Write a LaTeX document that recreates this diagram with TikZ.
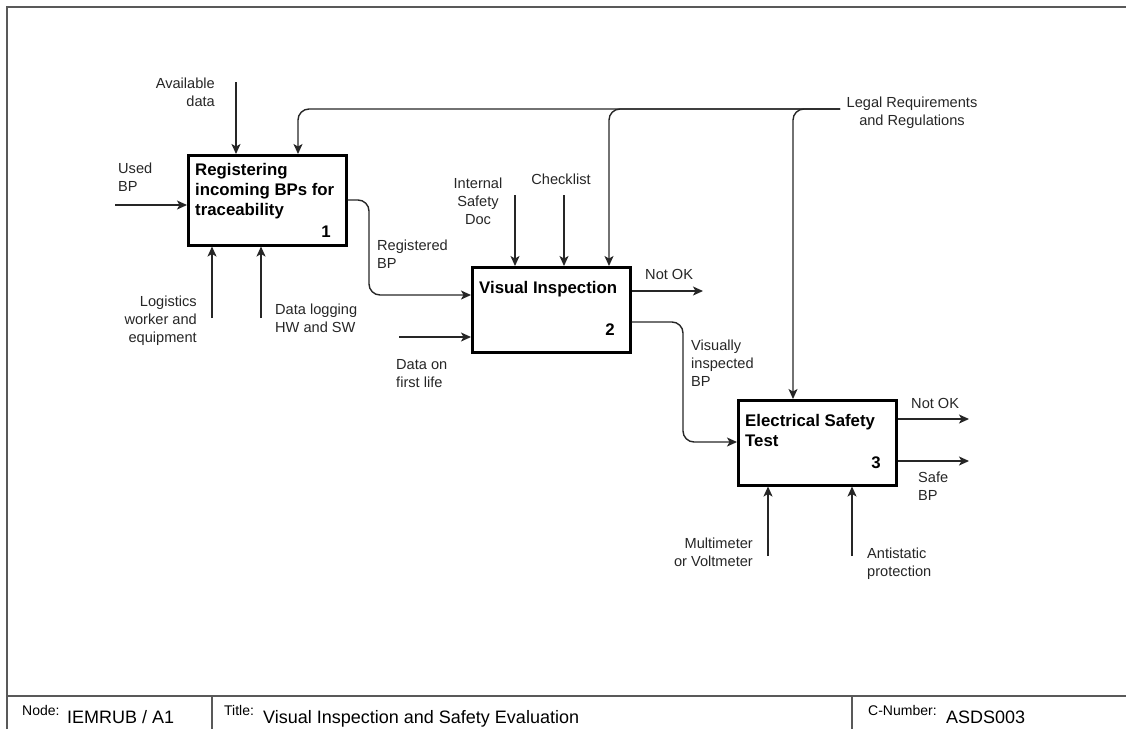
\documentclass[tikz,border=0pt]{standalone}
\usepackage{fontspec}
\setmainfont{Liberation Sans}
\usetikzlibrary{arrows.meta}
\begin{document}
\begin{tikzpicture}[x=1pt,y=-1pt,
  arr/.style={draw=black!85, line width=1.4pt, -{Stealth[length=10pt,width=9pt,inset=2.5pt]}},
  proc/.style={draw=black, line width=2.5pt, fill=white, minimum width=158pt,
    minimum height=90pt, anchor=north west, inner sep=0pt},
  lbl/.style={font=\fontsize{14.6}{18}\selectfont, inner sep=0pt, text=black!85},
  ttl/.style={font=\fontsize{16.8}{20}\selectfont\bfseries, inner sep=0pt, anchor=north west, align=left},
  num/.style={font=\fontsize{16.8}{20}\selectfont\bfseries, inner sep=0pt},
  frame/.style={draw=black!65, line width=1.8pt},
  small/.style={font=\fontsize{14}{16}\selectfont, inner sep=0pt, anchor=base west},
  big/.style={font=\fontsize{18}{20}\selectfont, inner sep=0pt, anchor=base west}
]
\useasboundingbox (0,0) rectangle (1126,729);

% sheet frame and footer
\draw[frame] (7,729) -- (7,7) -- (1126,7);
\draw[frame] (7,696) -- (1126,696);
\draw[frame] (212,696) -- (212,729);
\draw[frame] (852,696) -- (852,729);
\node[small] (fnode) at (22,715) {Node:};
\node[big] (fnodev) at (67,723) {IEMRUB / A1};
\node[small] (ftitle) at (224,715) {Title:};
\node[big] (ftitlev) at (263,723) {Visual Inspection and Safety Evaluation};
\node[small] (fcnum) at (868,715) {C-Number:};
\node[big] (fcnumv) at (946,723) {ASDS003};

% activity boxes
\node[proc, minimum width=158pt, minimum height=90pt] (b1) at (187,154) {};
\node[proc, minimum width=158pt, minimum height=85pt] (b2) at (471,266) {};
\node[proc, minimum width=158pt, minimum height=85pt] (b3) at (737,399) {};
\node[ttl] (t1) at (195,163.5) {Registering\\incoming BPs for\\traceability};
\node[ttl] (t2) at (479,281.5) {Visual Inspection};
\node[ttl] (t3) at (745,414.5) {Electrical Safety\\Test};
\node[num] (n1) at (326,232) {1};
\node[num] (n2) at (610,330) {2};
\node[num] (n3) at (876,463) {3};

% free ends of the boundary arrows
\coordinate (usedS) at (115,205);
\coordinate (availS) at (236,82);
\coordinate (legal) at (840,109);
\coordinate (k1) at (298,0);
\coordinate (k2) at (609,0);
\coordinate (k3) at (793,0);
\coordinate (logS) at (212,318);
\coordinate (dlogS) at (261,318);
\coordinate (isdS) at (515,195);
\coordinate (chkS) at (564,195);
\coordinate (flS) at (399,337);
\coordinate (nok2E) at (703,291);
\coordinate (nok3E) at (969,419);
\coordinate (safeE) at (969,461);
\coordinate (mmS) at (768,556);
\coordinate (asS) at (852,556);
\coordinate (m1) at (369,295);
\coordinate (m2) at (683,442);

% inputs, controls and mechanisms of box 1
\draw[arr] (usedS) -- (usedS -| b1.west);
\draw[arr] (availS) -- (availS |- b1.north);
\draw[arr, rounded corners=11pt] (legal) -| (k1 |- b1.north);
\draw[arr] (logS) -- (logS |- b1.south);
\draw[arr] (dlogS) -- (dlogS |- b1.south);

% box 1 to box 2
\draw[arr, rounded corners=11pt] (b1.east |- 0,200) -| (m1) -- (m1 -| b2.west);

% box 2
\draw[arr] (isdS) -- (isdS |- b2.north);
\draw[arr] (chkS) -- (chkS |- b2.north);
\draw[arr, rounded corners=11pt] (legal) -| (k2 |- b2.north);
\draw[arr] (flS) -- (flS -| b2.west);
\draw[arr] (b2.east |- nok2E) -- (nok2E);

% box 2 to box 3
\draw[arr, rounded corners=11pt] (b2.east |- 0,322) -| (m2) -- (m2 -| b3.west);

% box 3
\draw[arr, rounded corners=11pt] (legal) -| (k3 |- b3.north);
\draw[arr] (b3.east |- nok3E) -- (nok3E);
\draw[arr] (b3.east |- safeE) -- (safeE);
\draw[arr] (mmS) -- (mmS |- b3.south);
\draw[arr] (asS) -- (asS |- b3.south);

% labels
\node[lbl, anchor=north west, align=left] (lused) at (118,162.5) {Used\\BP};
\node[lbl, anchor=north east, align=right] (lavail) at (215,77.5) {Available\\data};
\node[lbl, anchor=north, align=center] (llegal) at (912,96.5) {Legal Requirements\\and Regulations};
\node[lbl, anchor=north east, align=right] (llog) at (197,295.5) {Logistics\\worker and\\equipment};
\node[lbl, anchor=north west, align=left] (ldlog) at (275,303.5) {Data logging\\HW and SW};
\node[lbl, anchor=north west, align=left] (lreg) at (377,239.5) {Registered\\BP};
\node[lbl, anchor=north, align=center] (lisd) at (478,177.5) {Internal\\Safety\\Doc};
\node[lbl, anchor=north] (lchk) at (561,173.5) {Checklist};
\node[lbl, anchor=north west, align=left] (lfl) at (396,359.5) {Data on\\first life};
\node[lbl, anchor=north west] (lnok2) at (645,269.5) {Not OK};
\node[lbl, anchor=north west, align=left] (lvis) at (691,339.5) {Visually\\inspected\\BP};
\node[lbl, anchor=north west] (lnok3) at (911,398.5) {Not OK};
\node[lbl, anchor=north west, align=left] (lsafe) at (918,471.5) {Safe\\BP};
\node[lbl, anchor=north east, align=right] (lmm) at (753,537.5) {Multimeter\\or Voltmeter};
\node[lbl, anchor=north west, align=left] (las) at (867,547.5) {Antistatic\\protection};
\end{tikzpicture}
\end{document}
